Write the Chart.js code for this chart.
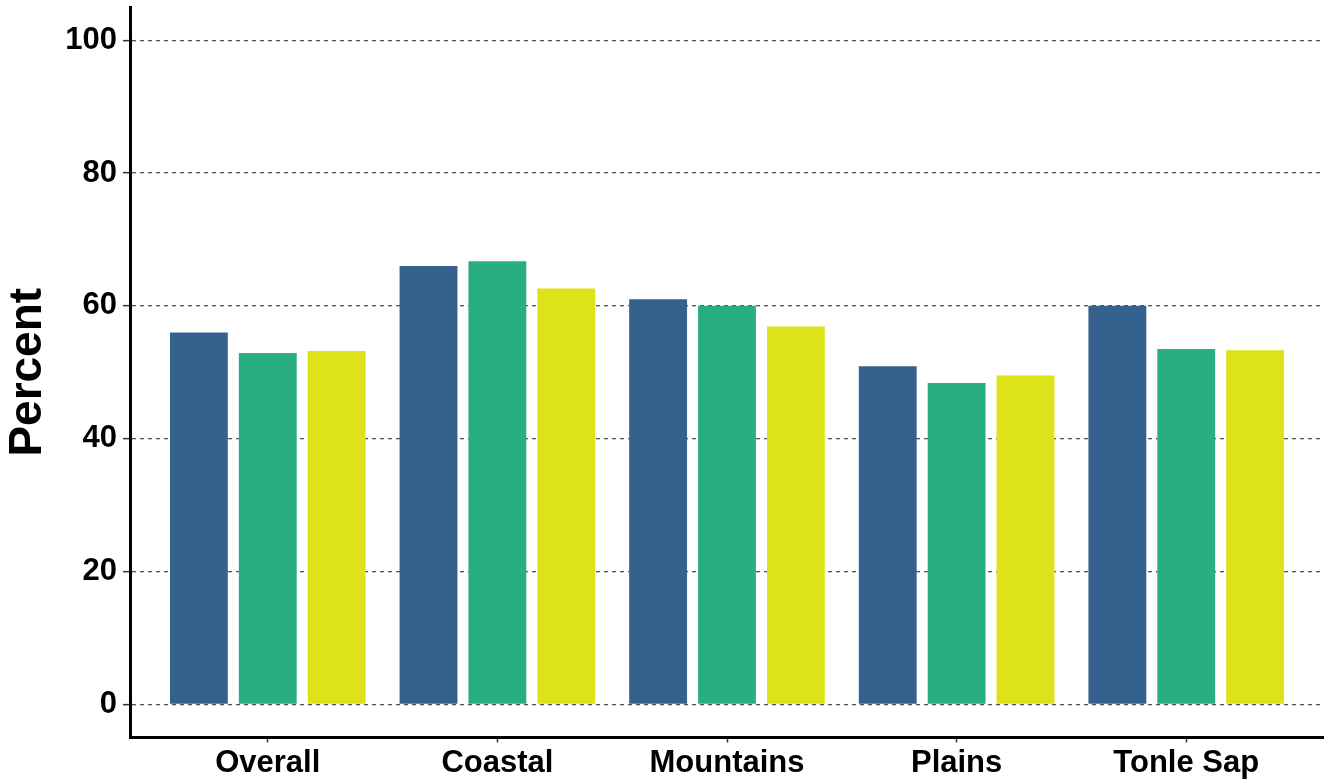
<!DOCTYPE html>
<html>
<head>
<meta charset="utf-8">
<script src="https://cdn.jsdelivr.net/npm/chart.js@4.4.1/dist/chart.umd.min.js"></script>
<style>
  html, body { margin: 0; padding: 0; background: #fff; }
  #wrap { width: 1324px; height: 783px; position: relative; }
</style>
</head>
<body>
<div id="wrap"><canvas id="chart"></canvas></div>
<script>
// regions along the x axis
const regions = ['Overall', 'Coastal', 'Mountains', 'Plains', 'Tonle Sap'];

// three bars per region (percent)
const series1 = [56.0, 66.0, 61.0, 50.9, 60.0];
const series2 = [52.9, 66.7, 60.0, 48.4, 53.5];
const series3 = [53.2, 62.6, 56.9, 49.5, 53.3];

const yTicks = [0, 20, 40, 60, 80, 100];

const fillColors = ['#34618D', '#29AF7F', '#DDE318'];

const FONT = '"Liberation Sans", Arial, Helvetica, sans-serif';

// bars sit at x = 1..5 on a linear scale so the padding at the ends can match
const toPoints = vals => vals.map((v, i) => ({ x: i + 1, y: v }));

const ctx = document.getElementById('chart').getContext('2d');

new Chart(ctx, {
  type: 'bar',
  data: {
    datasets: [
      { label: 'Series 1', data: toPoints(series1), backgroundColor: fillColors[0] },
      { label: 'Series 2', data: toPoints(series2), backgroundColor: fillColors[1] },
      { label: 'Series 3', data: toPoints(series3), backgroundColor: fillColors[2] }
    ]
  },
  options: {
    responsive: true,
    maintainAspectRatio: false,
    animation: false,
    categoryPercentage: 0.9,
    barPercentage: 0.84,
    layout: { padding: { top: 7, right: 0, left: 0, bottom: 0 } },
    plugins: {
      legend: { display: false },
      tooltip: { enabled: false }
    },
    scales: {
      x: {
        type: 'linear',
        offset: false,
        min: 0.4,
        max: 5.6,
        afterBuildTicks: scale => {
          scale.ticks = regions.map((r, i) => ({ value: i + 1 }));
        },
        afterFit: scale => {
          scale.height = 45.5;
          scale.paddingLeft = 0;
          scale.paddingRight = 0;
        },
        ticks: {
          autoSkip: false,
          maxRotation: 0,
          padding: 2,
          color: '#000',
          font: { family: FONT, size: 31, weight: 'bold' },
          callback: value => regions[value - 1]
        },
        grid: {
          offset: false,
          drawOnChartArea: false,
          drawTicks: true,
          tickLength: 5,
          tickColor: '#333',
          tickWidth: 1.5
        },
        border: { display: true, color: '#000', width: 3 }
      },
      y: {
        min: -5,
        max: 105,
        afterBuildTicks: scale => {
          scale.ticks = yTicks.map(v => ({ value: v }));
        },
        afterFit: scale => {
          scale.width = 130;
          scale.paddingTop = 0;
          scale.paddingBottom = 0;
        },
        ticks: {
          padding: 6,
          color: '#000',
          font: { family: FONT, size: 31, weight: 'bold' }
        },
        grid: {
          color: '#555',
          lineWidth: 1.3,
          drawTicks: true,
          tickLength: 7,
          tickColor: '#333',
          tickWidth: 1.5
        },
        border: { display: true, color: '#000', width: 3, dash: [4, 4] },
        title: {
          display: true,
          text: 'Percent',
          color: '#000',
          padding: { top: 1, bottom: 0 },
          font: { family: FONT, size: 46, weight: 'bold' }
        }
      }
    }
  }
});
</script>
</body>
</html>
